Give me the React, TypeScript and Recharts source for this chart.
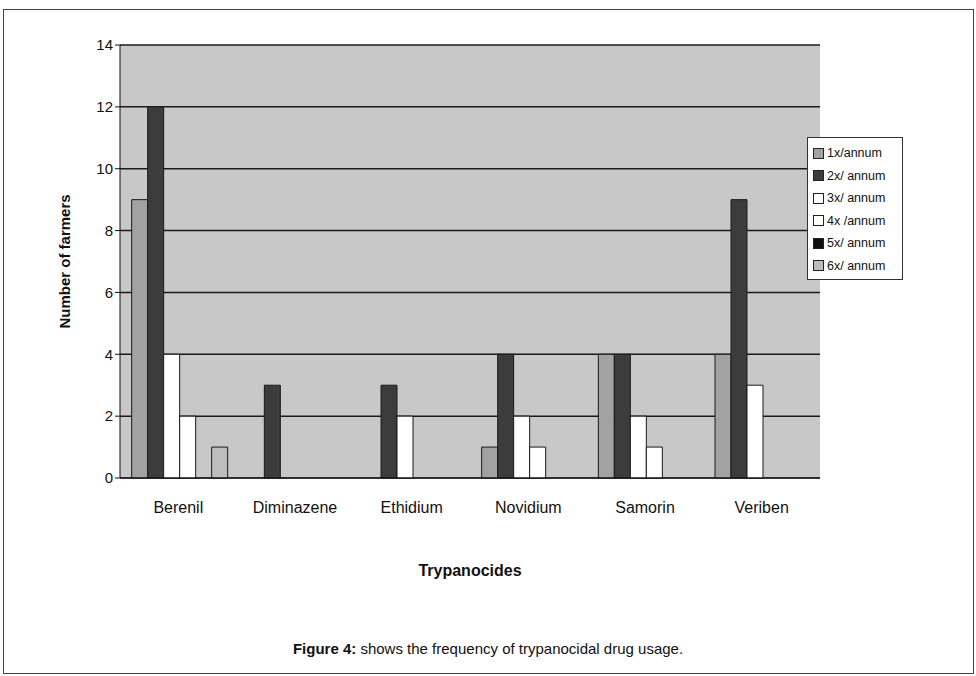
import { Bar, BarChart, CartesianGrid, XAxis, YAxis } from "recharts";

const drugs = ["Berenil", "Diminazene", "Ethidium", "Novidium", "Samorin", "Veriben"];
const once = [9, 0, 0, 1, 4, 4];
const twice = [12, 3, 3, 4, 4, 9];
const thrice = [4, 0, 2, 2, 2, 3];
const fourTimes = [2, 0, 0, 1, 1, 0];
const fiveTimes = [0, 0, 0, 0, 0, 0];
const sixTimes = [1, 0, 0, 0, 0, 0];
const yTicks = [0, 2, 4, 6, 8, 10, 12, 14];

const seriesNames = [
  "1x/annum",
  "2x/ annum",
  "3x/ annum",
  "4x /annum",
  "5x/ annum",
  "6x/ annum",
];

const series = [
  { key: "s1", values: once, fill: "#a2a2a2" },
  { key: "s2", values: twice, fill: "#3c3c3c" },
  { key: "s3", values: thrice, fill: "#ffffff" },
  { key: "s4", values: fourTimes, fill: "#ffffff" },
  { key: "s5", values: fiveTimes, fill: "#111111" },
  { key: "s6", values: sixTimes, fill: "#bdbdbd" },
];

const chartData = drugs.map((name, i) => {
  const row: Record<string, string | number> = { name };
  series.forEach((s) => {
    row[s.key] = s.values[i];
  });
  return row;
});

const font = "'Liberation Sans', Arial, sans-serif";

const ChartLegend = () => (
  <div
    style={{
      position: "absolute",
      left: 807,
      top: 137,
      width: 96,
      height: 143,
      background: "#fff",
      border: "1px solid #333",
      boxSizing: "border-box",
      padding: "4px 0 0 5px",
      fontFamily: font,
      fontSize: 12.5,
      color: "#111",
    }}
  >
    {series.map((s, i) => (
      <div
        key={s.key}
        style={{ display: "flex", alignItems: "center", height: 22.5 }}
      >
        <span
          style={{
            display: "inline-block",
            width: 9,
            height: 9,
            background: s.fill,
            border: "1px solid #222",
            marginRight: 3,
          }}
        />
        {seriesNames[i]}
      </div>
    ))}
  </div>
);

export default function App() {
  return (
    <div
      style={{
        position: "absolute",
        left: 0,
        top: 0,
        width: 976,
        height: 676,
        background: "#fff",
        fontFamily: font,
      }}
    >
      <div
        style={{
          position: "absolute",
          left: 3,
          top: 9,
          width: 971,
          height: 665,
          border: "1px solid #444",
          boxSizing: "border-box",
        }}
      />
      <div style={{ position: "absolute", left: 0, top: 0 }}>
        <BarChart
          width={976}
          height={676}
          data={chartData}
          margin={{ top: 45, right: 156, bottom: 98, left: 60 }}
          barCategoryGap="10%"
          barGap={0}
        >
          <CartesianGrid
            vertical={false}
            fill="#c8c8c8"
            stroke="#1a1a1a"
            strokeWidth={1.5}
          />
          <XAxis
            dataKey="name"
            height={100}
            tickLine={false}
            axisLine={{ stroke: "#111" }}
            tick={{ fill: "#111", fontSize: 16, fontFamily: font, dy: 16 }}
            label={{
              value: "Trypanocides",
              position: "insideBottom",
              offset: 2,
              style: { fontWeight: "bold", fontSize: 16, fill: "#111", fontFamily: font },
            }}
          />
          <YAxis
            width={60}
            domain={[0, 14]}
            ticks={yTicks}
            interval={0}
            tickSize={5}
            axisLine={{ stroke: "#111" }}
            tickLine={{ stroke: "#111" }}
            tick={{ fill: "#111", fontSize: 15, fontFamily: font }}
            label={{
              value: "Number of farmers",
              angle: -90,
              position: "insideLeft",
              offset: 5,
              style: {
                textAnchor: "middle",
                fontWeight: "bold",
                fontSize: 15,
                fill: "#111",
                fontFamily: font,
              },
            }}
          />
          {series.map((s, i) => (
            <Bar
              key={s.key}
              dataKey={s.key}
              name={seriesNames[i]}
              fill={s.fill}
              stroke="#1a1a1a"
              strokeWidth={1}
              isAnimationActive={false}
            />
          ))}
        </BarChart>
      </div>
      <ChartLegend />
      <div
        style={{
          position: "absolute",
          left: 0,
          width: 976,
          top: 640,
          textAlign: "center",
          fontSize: 15,
          color: "#111",
        }}
      >
        <b>Figure 4:</b> shows the frequency of trypanocidal drug usage.
      </div>
    </div>
  );
}
